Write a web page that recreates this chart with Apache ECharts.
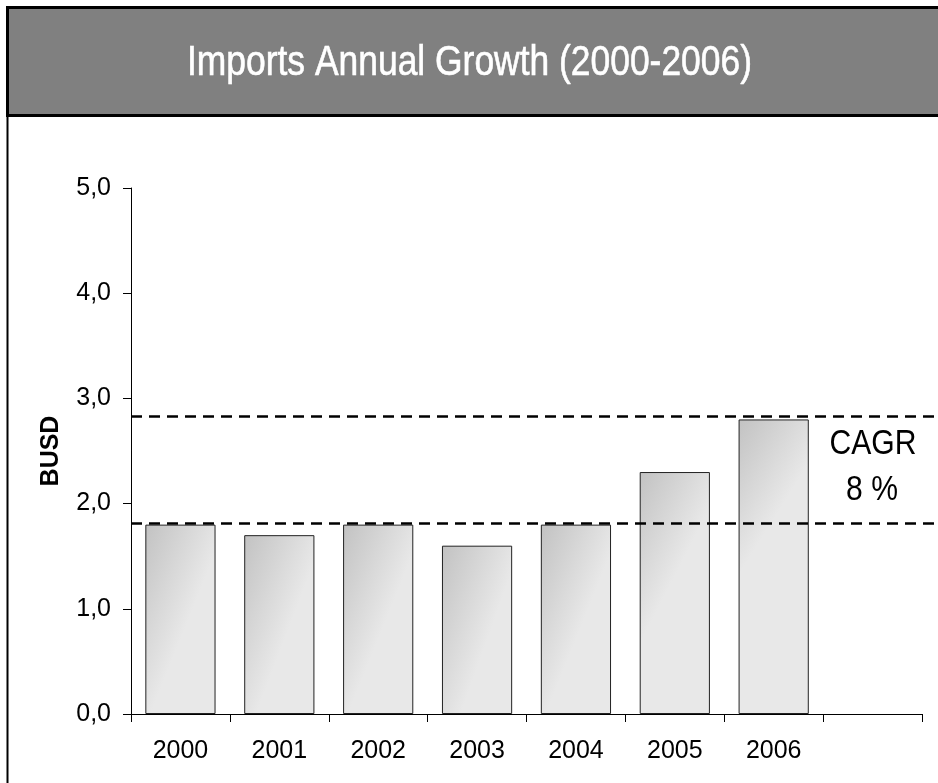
<!DOCTYPE html>
<html><head><meta charset="utf-8">
<script src="https://cdn.jsdelivr.net/npm/echarts@6/dist/echarts.min.js"></script>
<style>html,body{margin:0;padding:0;background:#fff}#c{width:938px;height:783px}</style>
</head><body><div id="c"></div>
<script>
const titleText = 'Imports Annual Growth (2000-2006)';
const categories = ['2000','2001','2002','2003','2004','2005','2006',''];
const imports = [1.8, 1.7, 1.8, 1.6, 1.8, 2.3, 2.8];
const cagrLevels = [1.81, 2.83];
const cagrLines = ['CAGR', '8 %'];
const FONT = '"Liberation Sans Narrow", "Arial Narrow", "Liberation Sans", Arial, sans-serif';

// horizontal compression to mimic the narrow face of the original
const ctx = document.createElement('canvas').getContext('2d');
function fitScale(text, font, target){ ctx.font = font; return target / ctx.measureText(text).width; }
const titleFont = '42px ' + FONT;
const titleScale = fitScale(titleText, titleFont, 565);
const cagrFont = '35px ' + FONT;
const cagrScale = fitScale('CAGR', cagrFont, 87);

const chart = echarts.init(document.getElementById('c'), null, {renderer:'canvas'});
const barGrad = new echarts.graphic.LinearGradient(0,0,1,0.15,[{offset:0,color:'#c2c2c2'},{offset:1,color:'#e8e8e8'}]);
chart.setOption({
  animation:false,
  backgroundColor:'#ffffff',
  textStyle:{fontFamily:FONT},
  graphic:[
    {type:'rect', shape:{x:7.5,y:7.5,width:940,height:108}, style:{fill:'#808080', stroke:'#000', lineWidth:3}, z:0},
    {type:'line', shape:{x1:7.5,y1:8,x2:7.5,y2:783}, style:{stroke:'#000', lineWidth:2}, z:1},
    {type:'text', x:469.5, y:63, scaleX:titleScale, style:{text:titleText, fill:'#fff', font:titleFont, align:'center', verticalAlign:'middle', stroke:'#fff', lineWidth:0.6}},
    {type:'text', x:873, y:444, scaleX:cagrScale, style:{text:cagrLines[0], fill:'#000', font:cagrFont, align:'center', verticalAlign:'middle'}},
    {type:'text', x:872, y:490, scaleX:cagrScale, style:{text:cagrLines[1], fill:'#000', font:cagrFont, align:'center', verticalAlign:'middle'}}
  ],
  grid:[
    {left:131, right:16, top:188, bottom:69},
    {left:131, right:0, top:188, bottom:69}
  ],
  xAxis:[
    {type:'category', gridIndex:0, data:categories, boundaryGap:true,
     axisLine:{lineStyle:{color:'#000',width:1}},
     axisTick:{show:true, length:8, lineStyle:{color:'#000'}},
     axisLabel:{color:'#000', fontSize:25, margin:25, fontFamily:FONT}},
    {type:'value', gridIndex:1, min:0, max:1, show:false}
  ],
  yAxis:[
    {type:'value', gridIndex:0, min:0, max:5, interval:1,
     name:'BUSD', nameLocation:'middle', nameRotate:90, nameGap:67,
     nameTextStyle:{color:'#000', fontSize:25, fontWeight:'bold', fontFamily:FONT},
     axisLine:{show:true, lineStyle:{color:'#000',width:1}},
     axisTick:{show:true, length:8, lineStyle:{color:'#000'}},
     splitLine:{show:false},
     axisLabel:{color:'#000', fontSize:25, margin:20, fontFamily:FONT,
       formatter:v=>v.toFixed(1).replace('.',',')}},
    {type:'value', gridIndex:1, min:0, max:5, show:false}
  ],
  series:[
    {type:'bar', xAxisIndex:0, yAxisIndex:0, data:imports, barCategoryGap:'29%',
     itemStyle:{color:barGrad, borderColor:'#222', borderWidth:1}, silent:true},
    {type:'scatter', xAxisIndex:1, yAxisIndex:1, data:[], silent:true,
     markLine:{symbol:['none','none'], silent:true, label:{show:false},
       lineStyle:{color:'#000', type:[11,7], width:2.5},
       data:cagrLevels.map(v=>({yAxis:v}))}}
  ]
});
</script></body></html>
